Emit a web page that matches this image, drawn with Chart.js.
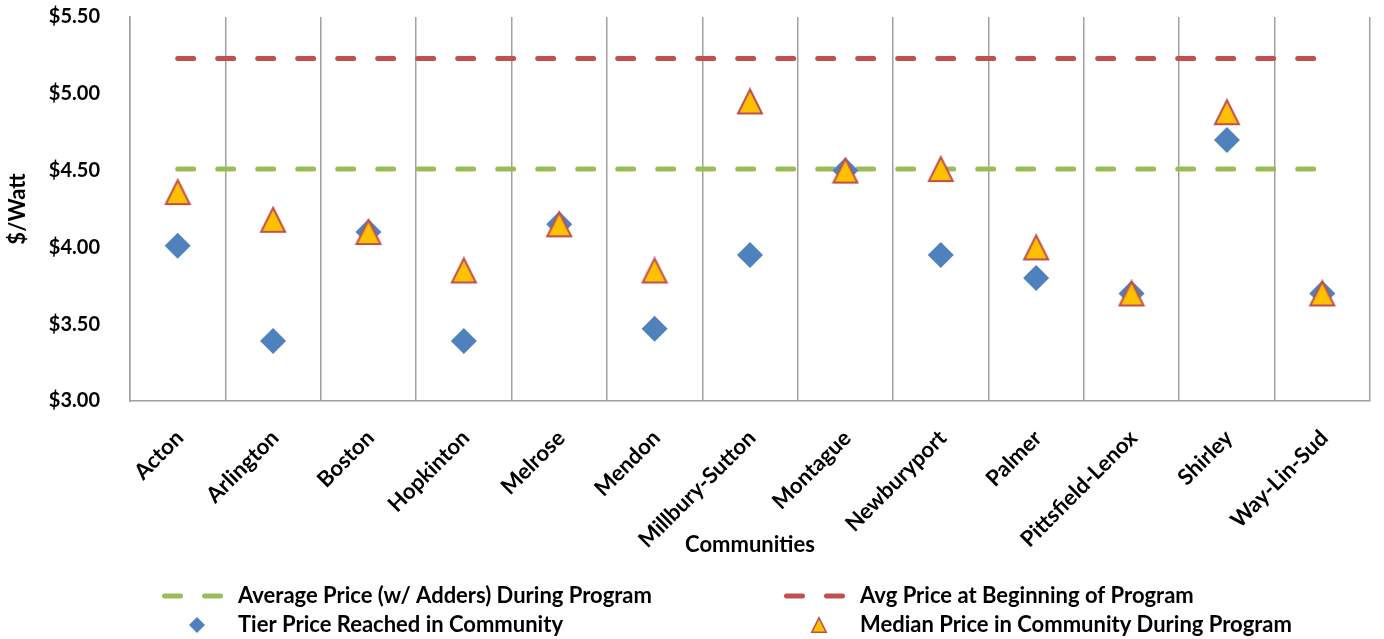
<!DOCTYPE html>
<html>
<head>
<meta charset="utf-8">
<title>Solarize Mass pricing by community</title>
<script src="https://cdn.jsdelivr.net/npm/chart.js@4.4.1/dist/chart.umd.min.js"></script>
<style>
  html, body { margin: 0; padding: 0; background: #fff; }
</style>
</head>
<body>
<canvas id="priceChart" width="1384" height="639"></canvas>
<script>
// ---- data ----
const communities = ['Acton', 'Arlington', 'Boston', 'Hopkinton', 'Melrose', 'Mendon',
  'Millbury-Sutton', 'Montague', 'Newburyport', 'Palmer', 'Pittsfield-Lenox', 'Shirley', 'Way-Lin-Sud'];
const tierPrice   = [4.01, 3.39, 4.10, 3.39, 4.15, 3.47, 3.95, 4.50, 3.95, 3.80, 3.70, 4.70, 3.70];
const medianPrice = [4.36, 4.18, 4.10, 3.85, 4.15, 3.85, 4.95, 4.50, 4.51, 4.00, 3.70, 4.88, 3.70];
const avgDuringProgram = 4.51;
const avgAtBeginning = 5.23;
const yRange = [3.0, 5.5];
const yStep = 0.5;

const FAMILY = 'Lato, "Open Sans", sans-serif';
const TICK_FONT = { family: FAMILY, size: 20, weight: 'bold' };
const LABEL_FONT = { family: FAMILY, size: 22, weight: 'bold' };
const GRID = '#a0a0a0';

// triangle marker, centred on its bounding box so the point sits mid-height
function makeTriangle(size, lw) {
  const c = document.createElement('canvas');
  c.width = size + 2; c.height = size + 2;
  const g = c.getContext('2d');
  const p = 1 + lw / 2, s = size + 1 - lw / 2;
  g.beginPath();
  g.moveTo((size + 2) / 2, p);
  g.lineTo(s, s);
  g.lineTo(p, s);
  g.closePath();
  g.fillStyle = '#FFC000';
  g.fill();
  g.lineWidth = lw;
  g.strokeStyle = '#C0504D';
  g.stroke();
  return c;
}
const triBig = makeTriangle(26, 2);
const triSmall = makeTriangle(16, 1.6);

// two column legend under the chart
const bottomLegend = {
  id: 'bottomLegend',
  afterDraw(chart, args, opts) {
    const ctx = chart.ctx;
    ctx.save();
    ctx.font = `bold ${opts.fontSize}px ${FAMILY}`;
    ctx.textBaseline = 'middle';
    chart.data.datasets.forEach((ds, i) => {
      const x = opts.textX[i % 2];
      const y = opts.rowY[Math.floor(i / 2)];
      if (ds.showLine !== false) {
        ctx.save();
        ctx.strokeStyle = ds.borderColor;
        ctx.lineWidth = ds.borderWidth;
        ctx.lineCap = 'round';
        ctx.setLineDash(ds.borderDash);
        ctx.beginPath();
        ctx.moveTo(x - 73.5, y);
        ctx.lineTo(x - 16, y);
        ctx.stroke();
        ctx.restore();
      } else if (ds.pointStyle === triBig) {
        ctx.drawImage(triSmall, x - 41 - triSmall.width / 2, y - triSmall.height / 2);
      } else {
        ctx.fillStyle = ds.pointBackgroundColor;
        Chart.helpers.drawPoint(ctx, { pointStyle: 'rectRot', radius: 8, rotation: 0, borderWidth: 0 }, x - 41, y);
      }
      ctx.fillStyle = '#000';
      ctx.fillText(ds.label, x, y);
    });
    ctx.restore();
  }
};

new Chart(document.getElementById('priceChart'), {
  type: 'line',
  data: {
    labels: communities,
    datasets: [
      {
        label: 'Average Price (w/ Adders) During Program',
        data: communities.map(() => avgDuringProgram),
        borderColor: '#9BBB59',
        borderWidth: 5,
        borderDash: [16, 24],
        borderCapStyle: 'round',
        pointRadius: 0,
        order: 3
      },
      {
        label: 'Avg Price at Beginning of Program',
        data: communities.map(() => avgAtBeginning),
        borderColor: '#C0504D',
        borderWidth: 5,
        borderDash: [16, 24],
        borderCapStyle: 'round',
        pointRadius: 0,
        order: 2
      },
      {
        label: 'Tier Price Reached in Community',
        data: tierPrice,
        showLine: false,
        pointStyle: 'rectRot',
        pointRadius: 13,
        pointBorderWidth: 0,
        pointBackgroundColor: '#4F81BD',
        pointBorderColor: '#4F81BD',
        order: 1
      },
      {
        label: 'Median Price in Community During Program',
        data: medianPrice,
        showLine: false,
        pointStyle: triBig,
        pointRadius: 13,
        order: 0
      }
    ]
  },
  options: {
    responsive: false,
    animation: false,
    events: [],
    devicePixelRatio: 1,
    layout: { padding: { top: 17, right: 7, bottom: 78, left: 0 } },
    plugins: {
      legend: { display: false },
      tooltip: { enabled: false },
      bottomLegend: { textX: [238, 860], rowY: [596, 625], fontSize: 22 }
    },
    scales: {
      x: {
        offset: true,
        grid: { offset: true, color: GRID, lineWidth: 1.5, drawTicks: false },
        border: { color: GRID, width: 1.5 },
        ticks: {
          autoSkip: false, minRotation: 45, maxRotation: 45,
          padding: 24, labelOffset: 2, font: LABEL_FONT, color: '#000'
        },
        title: { display: true, text: 'Communities', font: LABEL_FONT, color: '#000', padding: { top: 0, bottom: 3 } },
        afterFit(scale) { scale.height = 160; }
      },
      y: {
        min: yRange[0],
        max: yRange[1],
        // invisible grid, only used for the gap between labels and axis
        grid: { color: 'rgba(0,0,0,0)', drawTicks: true, tickLength: 30 },
        border: { display: true, color: GRID, width: 1.5 },
        ticks: {
          stepSize: yStep, padding: 0, font: TICK_FONT, color: '#000',
          callback: v => '$' + v.toFixed(2)
        },
        title: { display: true, text: '$/Watt', font: LABEL_FONT, color: '#000', padding: { top: 5, bottom: 0 } },
        afterFit(scale) { scale.width = 130; }
      }
    }
  },
  plugins: [bottomLegend]
});
</script>
</body>
</html>
